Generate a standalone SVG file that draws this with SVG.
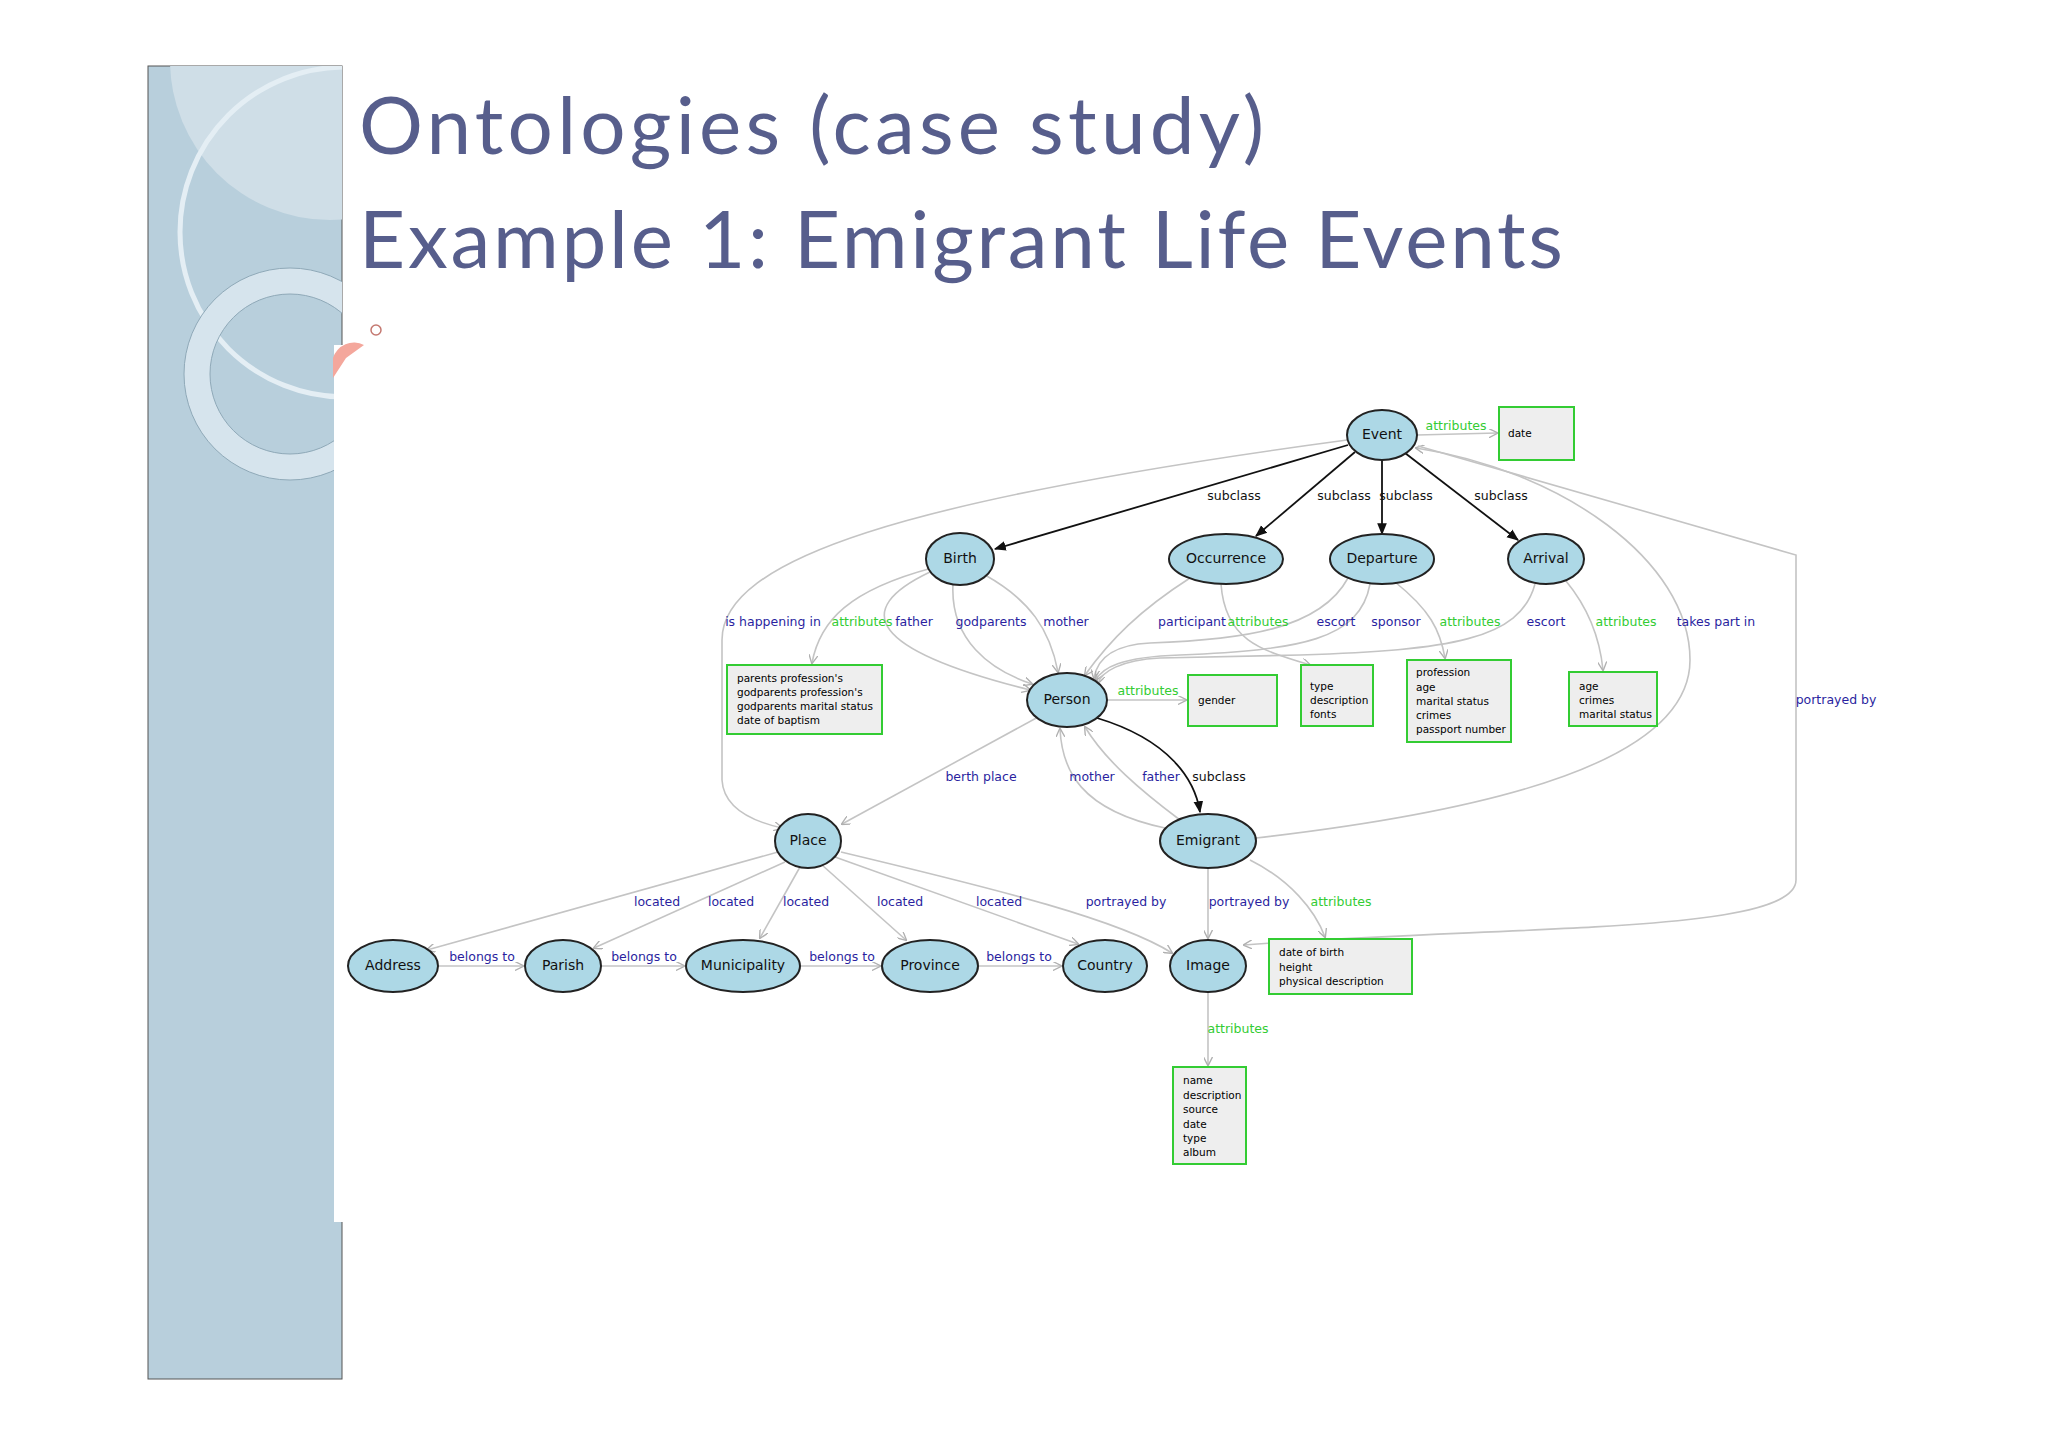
<svg xmlns="http://www.w3.org/2000/svg" width="2048" height="1447" viewBox="0 0 2048 1447">
<style>
.n ellipse{fill:#add8e6;stroke:#222;stroke-width:2}
.n text{font-family:"DejaVu Sans",sans-serif;font-size:14px;fill:#111;text-anchor:middle;dominant-baseline:middle}
.b rect{fill:#eeeeee;stroke:#33cc33;stroke-width:2}
.b text{font-family:"DejaVu Sans",sans-serif;font-size:10.5px;fill:#000}
.e path{fill:none;stroke:#c4c4c4;stroke-width:1.6}
.e path.k{stroke:#111;stroke-width:1.8}
.l{font-family:"DejaVu Sans",sans-serif;font-size:12.5px;text-anchor:middle}
.bl{fill:#2a1fa0}.gr{fill:#33cc33}.bk{fill:#111}
.t{font-family:"Lato","Open Sans",sans-serif;font-size:80px;fill:#575e8c}
</style>
<defs>
<marker id="ag" viewBox="0 0 10 10" refX="9" refY="5" markerWidth="9" markerHeight="9" orient="auto" markerUnits="userSpaceOnUse"><path d="M0,0 L10,5 L0,10" fill="none" stroke="#b0b0b0" stroke-width="1.5"/></marker>
<marker id="ak" viewBox="0 0 10 10" refX="9" refY="5" markerWidth="12" markerHeight="12" orient="auto" markerUnits="userSpaceOnUse"><path d="M0,1 L10,5 L0,9 z" fill="#111"/></marker>
<clipPath id="pc"><rect x="148" y="66" width="194" height="1313"/></clipPath>
</defs>
<rect width="2048" height="1447" fill="#fff"/>
<g id="panel">
<rect x="148" y="66" width="194" height="1313" fill="#b8cfdc" stroke="#555" stroke-width="1"/>
<g clip-path="url(#pc)">
<circle cx="330" cy="60" r="160" fill="#cfdee7"/>
<circle cx="345" cy="232" r="165" fill="none" stroke="#e4eef4" stroke-width="5"/>
<circle cx="290" cy="374" r="93" fill="none" stroke="#d6e4ed" stroke-width="26"/>
<circle cx="290" cy="374" r="106" fill="none" stroke="#8fa9b8" stroke-width="1"/>
<circle cx="290" cy="374" r="80" fill="none" stroke="#8fa9b8" stroke-width="1"/>
</g>
<rect x="334" y="345" width="30" height="877" fill="#fff"/>
<path d="M333,358 A22,22 0 0 1 364,345 L346,358 L333,378 z" fill="#f4a79c"/>
<circle cx="376" cy="330" r="5" fill="none" stroke="#c47870" stroke-width="1.5"/>
</g>
<text class="t" x="359" y="154" textLength="905">Ontologies (case study)</text>
<text class="t" x="359" y="268" textLength="1204">Example 1: Emigrant Life Events</text>

<g id="connectors" class="e">
<path class="k" d="M1348,445 L995,549" marker-end="url(#ak)"/>
<path class="k" d="M1355,452 L1256,536" marker-end="url(#ak)"/>
<path class="k" d="M1382,460 L1382,534" marker-end="url(#ak)"/>
<path class="k" d="M1405,453 L1518,540" marker-end="url(#ak)"/>
<path d="M1417,435 L1497,433" marker-end="url(#ag)"/>
<path d="M1347,440 C900,500 722,560 722,640 L722,780 Q724,815 782,828" marker-end="url(#ag)"/>
<path d="M932,568 C850,590 820,620 812,663" marker-end="url(#ag)"/>
<path d="M930,572 C850,610 870,650 1030,690" marker-end="url(#ag)"/>
<path d="M953,584 C950,640 990,670 1032,684" marker-end="url(#ag)"/>
<path d="M985,575 C1030,600 1050,630 1058,672" marker-end="url(#ag)"/>
<path d="M1190,578 C1140,610 1110,640 1085,675" marker-end="url(#ag)"/>
<path d="M1221,584 C1225,640 1260,650 1310,665" marker-end="url(#ag)"/>
<path d="M1348,578 C1320,630 1240,640 1150,643 C1110,645 1097,660 1094,678" marker-end="url(#ag)"/>
<path d="M1370,584 C1360,640 1300,650 1180,655 C1120,657 1102,668 1096,680" marker-end="url(#ag)"/>
<path d="M1395,582 C1430,610 1440,630 1445,658" marker-end="url(#ag)"/>
<path d="M1535,584 C1520,640 1450,650 1300,655 L1160,658 C1120,660 1102,672 1098,683" marker-end="url(#ag)"/>
<path d="M1566,581 C1590,610 1600,640 1603,670" marker-end="url(#ag)"/>
<path d="M1256,838 C1500,810 1690,760 1690,660 C1690,560 1560,470 1416,448" marker-end="url(#ag)"/>
<path d="M1418,446 L1796,555 L1796,880 C1796,935 1500,925 1244,945" marker-end="url(#ag)"/>
<path d="M1208,868 L1208,938" marker-end="url(#ag)"/>
<path d="M1250,860 C1290,880 1315,910 1325,937" marker-end="url(#ag)"/>
<path d="M841,852 C1000,890 1120,920 1172,953" marker-end="url(#ag)"/>
<path d="M778,852 L427,950" marker-end="url(#ag)"/>
<path d="M785,862 L594,948" marker-end="url(#ag)"/>
<path d="M800,867 L760,938" marker-end="url(#ag)"/>
<path d="M822,865 L906,940" marker-end="url(#ag)"/>
<path d="M835,857 L1078,944" marker-end="url(#ag)"/>
<path d="M1040,716 L842,824" marker-end="url(#ag)"/>
<path class="k" d="M1097,718 C1170,740 1195,780 1200,812" marker-end="url(#ak)"/>
<path d="M1165,828 C1080,810 1062,770 1060,729" marker-end="url(#ag)"/>
<path d="M1180,820 C1140,790 1105,760 1085,727" marker-end="url(#ag)"/>
<path d="M1107,700 L1186,700" marker-end="url(#ag)"/>
<path d="M438,966 L523,966" marker-end="url(#ag)"/>
<path d="M601,966 L684,966" marker-end="url(#ag)"/>
<path d="M800,966 L880,966" marker-end="url(#ag)"/>
<path d="M978,966 L1061,966" marker-end="url(#ag)"/>
<path d="M1208,992 L1208,1065" marker-end="url(#ag)"/>
</g>

<g id="edge-labels">
<text class="l bk" x="1234" y="500">subclass</text>
<text class="l bk" x="1344" y="500">subclass</text>
<text class="l bk" x="1406" y="500">subclass</text>
<text class="l bk" x="1501" y="500">subclass</text>
<text class="l gr" x="1456" y="430">attributes</text>
<text class="l bl" x="773" y="626">is happening in</text>
<text class="l gr" x="862" y="626">attributes</text>
<text class="l bl" x="914" y="626">father</text>
<text class="l bl" x="991" y="626">godparents</text>
<text class="l bl" x="1066" y="626">mother</text>
<text class="l bl" x="1192" y="626">participant</text>
<text class="l gr" x="1258" y="626">attributes</text>
<text class="l bl" x="1336" y="626">escort</text>
<text class="l bl" x="1396" y="626">sponsor</text>
<text class="l gr" x="1470" y="626">attributes</text>
<text class="l bl" x="1546" y="626">escort</text>
<text class="l gr" x="1626" y="626">attributes</text>
<text class="l bl" x="1716" y="626">takes part in</text>
<text class="l gr" x="1148" y="695">attributes</text>
<text class="l bl" x="1836" y="704">portrayed by</text>
<text class="l bl" x="981" y="781">berth place</text>
<text class="l bl" x="1092" y="781">mother</text>
<text class="l bl" x="1161" y="781">father</text>
<text class="l bk" x="1219" y="781">subclass</text>
<text class="l bl" x="657" y="906">located</text>
<text class="l bl" x="731" y="906">located</text>
<text class="l bl" x="806" y="906">located</text>
<text class="l bl" x="900" y="906">located</text>
<text class="l bl" x="999" y="906">located</text>
<text class="l bl" x="1126" y="906">portrayed by</text>
<text class="l bl" x="1249" y="906">portrayed by</text>
<text class="l gr" x="1341" y="906">attributes</text>
<text class="l bl" x="482" y="961">belongs to</text>
<text class="l bl" x="644" y="961">belongs to</text>
<text class="l bl" x="842" y="961">belongs to</text>
<text class="l bl" x="1019" y="961">belongs to</text>
<text class="l gr" x="1238" y="1033">attributes</text>
</g>

<g id="event" class="n"><ellipse cx="1382" cy="435" rx="35" ry="25"/><text x="1382" y="435">Event</text></g>
<g id="birth" class="n"><ellipse cx="960" cy="559" rx="34" ry="26"/><text x="960" y="559">Birth</text></g>
<g id="occurrence" class="n"><ellipse cx="1226" cy="559" rx="57" ry="25"/><text x="1226" y="559">Occurrence</text></g>
<g id="departure" class="n"><ellipse cx="1382" cy="559" rx="52" ry="25"/><text x="1382" y="559">Departure</text></g>
<g id="arrival" class="n"><ellipse cx="1546" cy="559" rx="38" ry="25"/><text x="1546" y="559">Arrival</text></g>
<g id="person" class="n"><ellipse cx="1067" cy="700" rx="40" ry="27"/><text x="1067" y="700">Person</text></g>
<g id="place" class="n"><ellipse cx="808" cy="841" rx="33" ry="27"/><text x="808" y="841">Place</text></g>
<g id="emigrant" class="n"><ellipse cx="1208" cy="841" rx="48" ry="27"/><text x="1208" y="841">Emigrant</text></g>
<g id="address" class="n"><ellipse cx="393" cy="966" rx="45" ry="26"/><text x="393" y="966">Address</text></g>
<g id="parish" class="n"><ellipse cx="563" cy="966" rx="38" ry="26"/><text x="563" y="966">Parish</text></g>
<g id="municipality" class="n"><ellipse cx="743" cy="966" rx="57" ry="26"/><text x="743" y="966">Municipality</text></g>
<g id="province" class="n"><ellipse cx="930" cy="966" rx="48" ry="26"/><text x="930" y="966">Province</text></g>
<g id="country" class="n"><ellipse cx="1105" cy="966" rx="42" ry="26"/><text x="1105" y="966">Country</text></g>
<g id="image" class="n"><ellipse cx="1208" cy="966" rx="38" ry="26"/><text x="1208" y="966">Image</text></g>

<g id="event-attrs" class="b"><rect x="1499" y="407" width="75" height="53"/><text x="1508" y="437">date</text></g>
<g id="birth-attrs" class="b"><rect x="727" y="665" width="155" height="69"/>
<text x="737" y="682">parents profession's</text><text x="737" y="696">godparents profession's</text><text x="737" y="710">godparents marital status</text><text x="737" y="724">date of baptism</text></g>
<g id="person-attrs" class="b"><rect x="1188" y="675" width="89" height="51"/><text x="1198" y="704">gender</text></g>
<g id="occurrence-attrs" class="b"><rect x="1301" y="665" width="72" height="61"/>
<text x="1310" y="690">type</text><text x="1310" y="704">description</text><text x="1310" y="718">fonts</text></g>
<g id="departure-attrs" class="b"><rect x="1407" y="660" width="104" height="82"/>
<text x="1416" y="676">profession</text><text x="1416" y="691">age</text><text x="1416" y="705">marital status</text><text x="1416" y="719">crimes</text><text x="1416" y="733">passport number</text></g>
<g id="arrival-attrs" class="b"><rect x="1569" y="672" width="88" height="54"/>
<text x="1579" y="690">age</text><text x="1579" y="704">crimes</text><text x="1579" y="718">marital status</text></g>
<g id="emigrant-attrs" class="b"><rect x="1269" y="939" width="143" height="55"/>
<text x="1279" y="956">date of birth</text><text x="1279" y="971">height</text><text x="1279" y="985">physical description</text></g>
<g id="image-attrs" class="b"><rect x="1173" y="1067" width="73" height="97"/>
<text x="1183" y="1084">name</text><text x="1183" y="1099">description</text><text x="1183" y="1113">source</text><text x="1183" y="1128">date</text><text x="1183" y="1142">type</text><text x="1183" y="1156">album</text></g>
</svg>
